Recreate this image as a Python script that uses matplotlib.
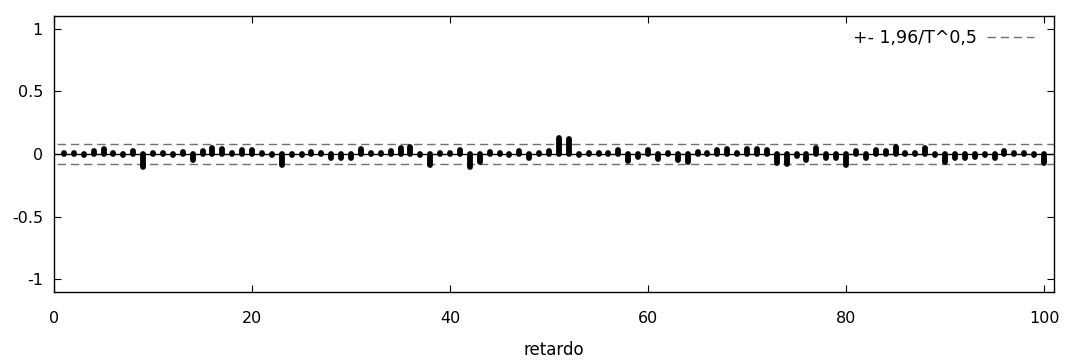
import matplotlib
matplotlib.use("Agg")
import matplotlib.pyplot as plt
import numpy as np

lags = list(range(1, 101))
acf = [
    0.004, 0.005, -0.008, 0.020, 0.040, 0.004, -0.010, 0.022, -0.105, 0.008,
    0.004, -0.005, 0.015, -0.050, 0.025, 0.045, 0.040, 0.004, 0.035, 0.028,
    0.004, -0.010, -0.090, -0.005, -0.010, 0.015, 0.010, -0.030, -0.030, -0.030,
    0.040, 0.004, 0.010, 0.025, 0.045, 0.055, -0.010, -0.090, 0.005, 0.008,
    0.030, -0.105, -0.065, 0.015, 0.004, -0.005, 0.020, -0.030, 0.010, 0.025,
    0.130, 0.120, -0.008, 0.004, 0.010, 0.004, 0.035, -0.055, -0.020, 0.030,
    -0.040, 0.010, -0.045, -0.065, 0.015, 0.005, 0.030, 0.040, 0.004, 0.040,
    0.040, 0.030, -0.070, -0.080, -0.015, -0.045, 0.045, -0.035, -0.035, -0.085,
    0.020, -0.035, 0.030, 0.025, 0.055, 0.010, 0.005, 0.045, -0.010, -0.060,
    -0.030, -0.030, -0.025, -0.005, -0.030, 0.020, 0.005, 0.004, -0.005, -0.070,
]
band = 0.083
band_label = "+- 1,96/T^0,5"
x_label = "retardo"
yticks = [-1, -0.5, 0, 0.5, 1]
ytick_labels = ["-1", "-0.5", "0", "0.5", "1"]
xticks = [0, 20, 40, 60, 80, 100]

fig = plt.figure(figsize=(10.66, 3.62), dpi=100)
ax = fig.add_axes([54/1066, 1-292/362, 1000/1066, 276/362])

ax.axhline(0, color="black", lw=1.0, zorder=2)
ax.vlines(lags, 0, acf, color="black", lw=4.2, capstyle="round", zorder=3)
dash, = ax.plot([-1, 102], [band, band], color="#707070", lw=1.0,
                dashes=(6, 3.5), zorder=1, label=band_label)
ax.plot([-1, 102], [-band, -band], color="#707070", lw=1.0,
        dashes=(6, 3.5), zorder=1)

ax.set_xlim(0, 101)
ax.set_ylim(-1.1, 1.1)
ax.set_yticks(yticks)
ax.set_yticklabels(ytick_labels)
ax.set_xticks(xticks)
ax.tick_params(direction="in", length=5.3, width=0.8, top=True, right=True,
               labelsize=11.5)
ax.tick_params(axis="x", pad=14)
ax.tick_params(axis="y", pad=8)
for s in ax.spines.values():
    s.set_linewidth(1.0)
ax.set_xlabel(x_label, fontsize=12, labelpad=10.5)

leg = ax.legend(handles=[dash], loc="upper right", frameon=False,
                markerfirst=False, fontsize=12.5, handlelength=2.7,
                borderaxespad=0, borderpad=0.4, handletextpad=0.6,
                bbox_to_anchor=(0.987, 0.978))

fig.savefig("out.png", dpi=100)
